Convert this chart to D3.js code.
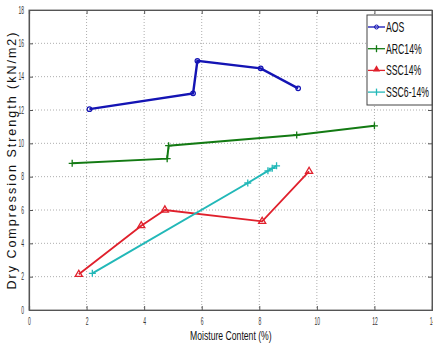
<!DOCTYPE html>
<html>
<head>
<meta charset="utf-8">
<script src="https://cdn.jsdelivr.net/npm/d3@7"></script>
<style>
  body { margin: 0; background: #fff; }
  svg { display: block; }
</style>
</head>
<body>
<script>
// series
const aosX = [2.1, 5.7, 5.85, 8.05, 9.35];
const aosY = [12.05, 13.0, 14.95, 14.5, 13.3];
const arcX = [1.5, 4.8, 4.85, 9.3, 12.0];
const arcY = [8.8, 9.08, 9.86, 10.5, 11.05];
const sscX = [1.73, 3.9, 4.72, 8.1, 9.73];
const sscY = [2.14, 5.06, 6.0, 5.32, 8.32];
const ssc6X = [2.2, 7.6, 8.3, 8.45, 8.6];
const ssc6Y = [2.2, 7.62, 8.35, 8.5, 8.65];

const seriesNames = ['AOS', 'ARC14%', 'SSC14%', 'SSC6-14%'];
const xTicks = [0, 2, 4, 6, 8, 10, 12, 14];
const yTicks = [0, 2, 4, 6, 8, 10, 12, 14, 16, 18];

const W = 433, H = 345;
const margin = { top: 10, right: 1, bottom: 35, left: 29 };
const width = W - margin.left - margin.right;
const height = H - margin.top - margin.bottom;

const series = [
  { name: seriesNames[0], xs: aosX, ys: aosY, color: '#1414b4', sw: 2.4, marker: 'circle' },
  { name: seriesNames[1], xs: arcX, ys: arcY, color: '#137a13', sw: 2, marker: 'plus' },
  { name: seriesNames[2], xs: sscX, ys: sscY, color: '#e0202c', sw: 1.8, marker: 'tri' },
  { name: seriesNames[3], xs: ssc6X, ys: ssc6Y, color: '#22b8b8', sw: 2, marker: 'plus' }
];

const font = '"Liberation Sans", Arial, sans-serif';
// squeeze text horizontally (the original uses a narrow face)
function squeeze(sel, k) {
  sel.each(function () {
    const len = this.getComputedTextLength();
    d3.select(this).attr('textLength', len * k).attr('lengthAdjust', 'spacingAndGlyphs');
  });
}

const svg = d3.select('body').append('svg')
  .attr('width', W)
  .attr('height', H);

const g = svg.append('g')
  .attr('transform', `translate(${margin.left}, ${margin.top})`);

const x = d3.scaleLinear().domain([0, 14]).range([0, width]);
const y = d3.scaleLinear().domain([0, 18]).range([height, 0]);

// grid
g.append('g').selectAll('line').data(xTicks.slice(1, -1)).join('line')
  .attr('x1', d => x(d)).attr('x2', d => x(d))
  .attr('y1', 0).attr('y2', height)
  .attr('stroke', '#999').attr('stroke-width', 0.8)
  .attr('stroke-dasharray', '1,2');
g.append('g').selectAll('line').data(yTicks.slice(1, -1)).join('line')
  .attr('x1', 0).attr('x2', width)
  .attr('y1', d => y(d)).attr('y2', d => y(d))
  .attr('stroke', '#999').attr('stroke-width', 0.8)
  .attr('stroke-dasharray', '1,2');

// frame
g.append('rect')
  .attr('width', width).attr('height', height)
  .attr('fill', 'none').attr('stroke', '#777').attr('stroke-width', 1);

// axes (matlab style: ticks inside)
const xAxis = d3.axisBottom(x).tickValues(xTicks).tickSize(-4).tickPadding(8);
const yAxis = d3.axisLeft(y).tickValues(yTicks).tickSize(-4).tickPadding(5);

const xAxisG = g.append('g')
  .attr('transform', `translate(0, ${height})`)
  .call(xAxis);
const yAxisG = g.append('g').call(yAxis);
g.append('g')
  .attr('transform', `translate(${width}, 0)`)
  .call(d3.axisRight(y).tickValues(yTicks).tickSize(-4).tickFormat(''));
g.append('g')
  .call(d3.axisTop(x).tickValues(xTicks).tickSize(-4).tickFormat(''));

g.selectAll('.domain').attr('stroke', '#555').attr('stroke-width', 1.2);
g.selectAll('.tick line').attr('stroke', '#555');
[xAxisG, yAxisG].forEach(a => {
  a.selectAll('text')
    .attr('font-family', font)
    .attr('font-size', 10)
    .attr('fill', '#333');
  squeeze(a.selectAll('text'), 0.5);
});

// lines
const line = d3.line().x(d => x(d[0])).y(d => y(d[1]));
const tri = d3.symbol().type(d3.symbolTriangle).size(22);

series.forEach(s => {
  const pts = s.xs.map((v, i) => [v, s.ys[i]]);
  g.append('path')
    .datum(pts)
    .attr('fill', 'none')
    .attr('stroke', s.color)
    .attr('stroke-width', s.sw)
    .attr('d', line);
  const mg = g.append('g');
  pts.forEach(p => {
    const px = x(p[0]), py = y(p[1]);
    if (s.marker === 'circle') {
      mg.append('circle').attr('cx', px).attr('cy', py).attr('r', 2.3)
        .attr('fill', 'none').attr('stroke', s.color).attr('stroke-width', 1.2);
    } else if (s.marker === 'tri') {
      mg.append('path').attr('d', tri).attr('transform', `translate(${px},${py})`)
        .attr('fill', 'none').attr('stroke', s.color).attr('stroke-width', 1.3);
    } else {
      mg.append('path').attr('d', `M${px - 3.5},${py}H${px + 3.5}M${px},${py - 3.5}V${py + 3.5}`)
        .attr('stroke', s.color).attr('stroke-width', 1.3);
    }
  });
});

// legend
const lg = svg.append('g').attr('transform', 'translate(367, 15)');
lg.append('rect')
  .attr('width', 65).attr('height', 90)
  .attr('fill', '#fff').attr('stroke', '#444').attr('stroke-width', 1);
series.forEach((s, i) => {
  const yy = 12 + i * 21.7;
  lg.append('line').attr('x1', 1).attr('x2', 18).attr('y1', yy).attr('y2', yy)
    .attr('stroke', s.color).attr('stroke-width', 1.3);
  const cx = 9.5;
  if (s.marker === 'circle') {
    lg.append('circle').attr('cx', cx).attr('cy', yy).attr('r', 2)
      .attr('fill', 'none').attr('stroke', s.color).attr('stroke-width', 1);
  } else if (s.marker === 'tri') {
    lg.append('path').attr('d', tri).attr('transform', `translate(${cx},${yy - 1})`)
      .attr('fill', s.color);
  } else {
    lg.append('path').attr('d', `M${cx},${yy - 3.5}V${yy + 3.5}`)
      .attr('stroke', s.color).attr('stroke-width', 1.3);
  }
  const t = lg.append('text')
    .attr('x', 19).attr('y', yy + 5)
    .attr('font-family', font)
    .attr('font-size', 14)
    .attr('fill', '#111')
    .text(s.name);
  squeeze(t, 0.62);
});

// axis titles
const xt = svg.append('text')
  .attr('x', 190).attr('y', 340)
  .attr('font-family', font)
  .attr('font-size', 13.5)
  .attr('fill', '#111')
  .text('Moisture Content (%)');
squeeze(xt, 0.64);

svg.append('text')
  .attr('transform', 'translate(16, 161) rotate(-90)')
  .attr('text-anchor', 'middle')
  .attr('font-family', font)
  .attr('font-size', 12.5)
  .attr('textLength', 257)
  .attr('lengthAdjust', 'spacing')
  .attr('fill', '#111')
  .text('Dry Compression Strength (kN/m2)');
</script>
</body>
</html>
